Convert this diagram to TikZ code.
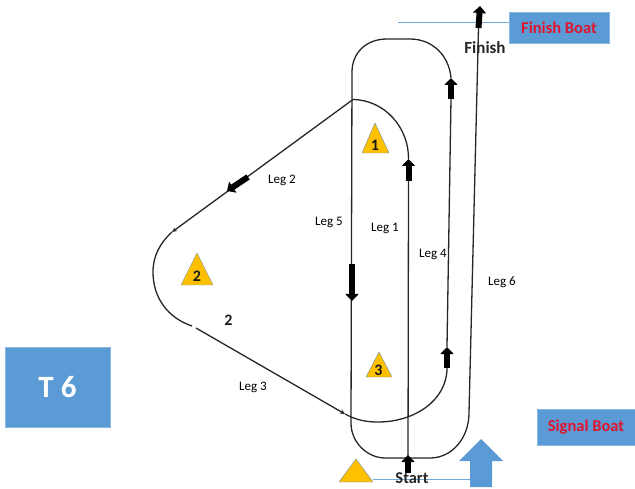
\documentclass[tikz,border=0pt]{standalone}
\usepackage{fontspec}
\setmainfont{Carlito}
\usetikzlibrary{arrows.meta}
\definecolor{boxblue}{HTML}{5B9BD5}
\definecolor{buoy}{HTML}{FFC000}
\definecolor{boatred}{HTML}{E0142C}
\definecolor{course}{HTML}{262626}
\tikzset{
  x=1pt,y=-1pt,
  track/.style={draw=course,line width=1.3pt},
  blockarrow/.style={draw=black,line width=6pt,-{Triangle[width=13pt,length=7pt]},shorten >=0pt},
  tinytip/.style={-{Stealth[length=5pt,width=4.5pt]}},
  boatbox/.style={fill=boxblue,draw=boxblue!70!white,line width=.5pt,inner sep=0pt,text=boatred,font=\fontsize{16.5}{18}\selectfont\bfseries,align=center},
  legtext/.style={font=\fontsize{13}{15}\selectfont,text=black,inner sep=0pt},
  marklabel/.style={font=\fontsize{16}{18}\selectfont\bfseries,text=black!90,inner sep=0pt},
  buoyshape/.style={fill=buoy,draw=boxblue!50!gray,line width=.4pt,line join=round},
  layline/.style={draw=boxblue!85!white,line width=1pt},
}
\begin{document}
\begin{tikzpicture}
\useasboundingbox (0,0) rectangle (635,489);
% boxes
\node[fill=boxblue,draw=boxblue!70!white,line width=.5pt,minimum width=105pt,minimum height=80pt,inner sep=0pt,text=white,font=\fontsize{31}{33}\selectfont\bfseries] (t6) at (57.5,387) {T 6};
\node[boatbox,minimum width=100pt,minimum height=31pt] (finishboat) at (559,27.5) {Finish Boat};
\node[boatbox,minimum width=98pt,minimum height=36pt] (signalboat) at (586,427) {Signal Boat};
% lines
\coordinate (finishend) at (398,23);
\draw[layline] (finishend) -- (finishboat.west |- finishend);
\coordinate (startA) at (373,479);
\coordinate (startB) at (470,479);
\draw[layline] (startA) -- (startB);
% big arrow
\fill[boxblue] (470,487) -- (470,461) -- (459,461) -- (481,439) -- (503,461) -- (492,461) -- (492,487) -- cycle;
% coordinates
\coordinate (startpt) at (408,473);
\coordinate (a1base) at (408.5,181);
\coordinate (a1tip) at (408.5,159);
\coordinate (m1top) at (353,99.5);
\coordinate (m2a) at (172,232);
\coordinate (m2b) at (192,326);
\coordinate (m3a) at (196,328);
\coordinate (m3b) at (345,414);
\coordinate (a4base) at (447,368);
\coordinate (a4tip) at (447,347);
\coordinate (a4bbase) at (451,99);
\coordinate (a4btip) at (451,78);
\coordinate (topL) at (352,72);
\coordinate (botL) at (351,423);
\coordinate (botR) at (469,413);
\coordinate (a6base) at (478.5,28);
\coordinate (a6tip) at (480,6);
% leg 1
\draw[track] (startpt) -- (a1base);
\draw[blockarrow] (a1base) -- (a1tip);
\draw[track] (a1tip) .. controls (409,128) and (385,100) .. (m1top);
% leg 2
\draw[track,tinytip] (m1top) -- (m2a);
\draw[blockarrow] (248,177) -- (227,191);
\draw[track] (m2a) .. controls (160,243) and (153,256) .. (153,272) .. controls (153,298) and (168,318) .. (m2b);
% leg 3
\draw[track,tinytip] (m3a) -- (m3b);
\draw[track] (m3b) .. controls (356,420) and (366,422) .. (378,422) .. controls (415,422) and (447,400) .. (a4base);
% leg 4
\draw[blockarrow] (a4base) -- (a4tip);
\draw[track] (a4tip) -- (a4bbase);
\draw[blockarrow] (a4bbase) -- (a4btip);
% top loop and leg 5
\draw[track] (a4btip) .. controls (449,55) and (432,39) .. (410,39) -- (387,39) .. controls (366,39) and (352,53) .. (topL);
\draw[track] (topL) -- (botL);
\draw[blockarrow] (352,264) -- (352,301);
% bottom loop and leg 6
\draw[track] (botL) .. controls (351,443) and (368,458) .. (385,458) -- (430,458) .. controls (452,458) and (469,438) .. (botR);
\draw[track] (botR) -- (a6base);
\draw[blockarrow] (a6base) -- (a6tip);
\draw[blockarrow] (408,473) -- (408,455);
% marks
\fill[buoyshape] (375,123) -- (389,153) -- (362,153) -- cycle;
\node[marklabel] (n1) at (375,145) {1};
\fill[buoyshape] (197,253) -- (213,285) -- (181,285) -- cycle;
\node[marklabel] (n2) at (197,276) {2};
\fill[buoyshape] (379,352) -- (392,377) -- (366,377) -- cycle;
\node[marklabel] (n3) at (378.5,370) {3};
\fill[buoyshape] (356,459) -- (373,482) -- (339,482) -- cycle;
% labels
\node[legtext] (leg1) at (385,228) {Leg 1};
\node[legtext] (leg2) at (282,180) {Leg 2};
\node[legtext] (leg3) at (253,387) {Leg 3};
\node[legtext] (leg4) at (433,254) {Leg 4};
\node[legtext] (leg5) at (329,222) {Leg 5};
\node[legtext] (leg6) at (502,282) {Leg 6};
\node[marklabel] (two) at (228.5,320) {2};
\node[font=\fontsize{17}{19}\selectfont\bfseries,text=black!85,inner sep=0pt] (finish) at (485,48) {Finish};
\node[font=\fontsize{16.5}{18}\selectfont\bfseries,text=black!85,inner sep=0pt] (start) at (412,478) {Start};
\end{tikzpicture}
\end{document}
